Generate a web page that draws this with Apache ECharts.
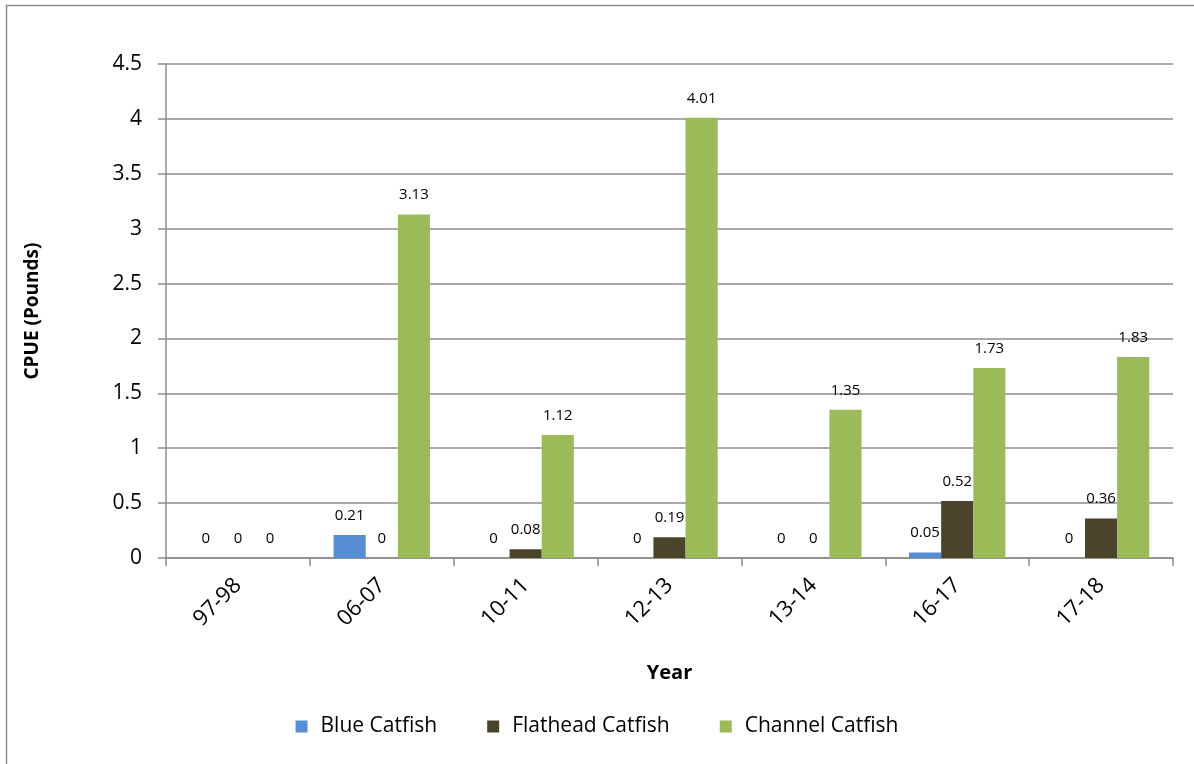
<!DOCTYPE html>
<html>
<head>
<meta charset="utf-8">
<script src="https://cdn.jsdelivr.net/npm/echarts@6/dist/echarts.min.js"></script>
<style>
  html, body { margin: 0; padding: 0; background: #fff; }
  #chart { width: 1194px; height: 764px; }
</style>
</head>
<body>
<div id="chart"></div>
<script>
  // 数据
  var years = ['97-98', '06-07', '10-11', '12-13', '13-14', '16-17', '17-18'];
  var blueCatfish = [0, 0.21, 0, 0, 0, 0.05, 0];
  var flatheadCatfish = [0, 0, 0.08, 0.19, 0, 0.52, 0.36];
  var channelCatfish = [0, 3.13, 1.12, 4.01, 1.35, 1.73, 1.83];
  var seriesNames = ['Blue Catfish', 'Flathead Catfish', 'Channel Catfish'];

  var font = '"Open Sans", "Noto Sans", sans-serif';
  var myChart = echarts.init(document.getElementById('chart'));

  function barSeries(name, data, color) {
    return {
      name: name,
      type: 'bar',
      data: data,
      barGap: '0%',
      barCategoryGap: '33%',
      itemStyle: { color: color },
      label: {
        show: true,
        position: 'top',
        distance: 12,
        color: '#000',
        fontSize: 15,
        fontFamily: font
      }
    };
  }

  var option = {
    animation: false,
    backgroundColor: '#fff',
    textStyle: { fontFamily: font },
    graphic: [{
      type: 'rect',
      shape: { x: 6.5, y: 5.5, width: 1300, height: 900 },
      style: { fill: 'none', stroke: '#8c8c8c', lineWidth: 1.5 },
      silent: true
    }],
    legend: {
      bottom: 22,
      left: 'center',
      itemWidth: 12,
      itemHeight: 12,
      itemGap: 50,
      icon: 'rect',
      textStyle: { fontSize: 21, color: '#000', fontFamily: font, padding: [0, 0, 0, 8] },
      data: seriesNames
    },
    grid: { left: 166, right: 21, top: 64, bottom: 206 },
    xAxis: {
      type: 'category',
      data: years,
      name: 'Year',
      nameLocation: 'middle',
      nameGap: 105,
      nameTextStyle: { fontSize: 20, fontWeight: 'bold', color: '#000' },
      axisLine: { lineStyle: { color: '#8c8c8c', width: 1.5 } },
      axisTick: { show: true, length: 8, lineStyle: { color: '#8c8c8c', width: 1.5 } },
      axisLabel: { rotate: 45, fontSize: 22, color: '#000', margin: 24 }
    },
    yAxis: {
      type: 'value',
      min: 0,
      max: 4.5,
      interval: 0.5,
      name: 'CPUE (Pounds)',
      nameLocation: 'middle',
      nameGap: 124,
      nameTextStyle: { fontSize: 19, fontWeight: 'bold', color: '#000' },
      axisLine: { show: true, lineStyle: { color: '#8c8c8c', width: 1.5 } },
      axisTick: { show: true, length: 8, lineStyle: { color: '#8c8c8c', width: 1.5 } },
      axisLabel: { fontSize: 21, color: '#000', margin: 24 },
      splitLine: { lineStyle: { color: '#8c8c8c', width: 1.5 } }
    },
    series: [
      barSeries(seriesNames[0], blueCatfish, '#558ed5'),
      barSeries(seriesNames[1], flatheadCatfish, '#4a452a'),
      barSeries(seriesNames[2], channelCatfish, '#9bbb59')
    ]
  };
  myChart.setOption(option);
</script>
</body>
</html>
